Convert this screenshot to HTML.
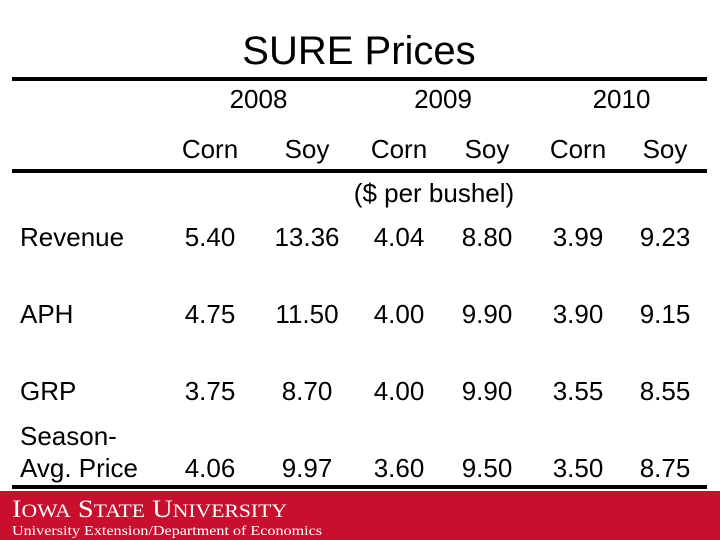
<!DOCTYPE html>
<html><head><meta charset="utf-8"><style>
body{margin:0;width:720px;height:540px;overflow:hidden;background:#fff}
svg{display:block}
text{font-family:"Liberation Sans",Arial,sans-serif;fill:#000}
text.serif{font-family:"Liberation Serif","DejaVu Serif",serif;fill:#fff}
</style></head><body>
<svg width="720" height="540">
<text x="359" y="64" font-size="40" text-anchor="middle">SURE Prices</text>
<rect x="12" y="77" width="695" height="4"/>
<rect x="12" y="169" width="695" height="4"/>
<rect x="12" y="485" width="695" height="4"/>
<g id="tbl" font-size="26"></g>
<rect x="0" y="491" width="720" height="49" fill="#C8102E"/>
<text class="serif" x="12" y="517" font-size="25" textLength="275" lengthAdjust="spacingAndGlyphs">I<tspan font-size="19">OWA</tspan> S<tspan font-size="19">TATE</tspan> U<tspan font-size="19">NIVERSITY</tspan></text>
<text class="serif" x="12" y="535" font-size="14" textLength="310" lengthAdjust="spacingAndGlyphs">University Extension/Department of Economics</text>
</svg>
<script>
const years=["2008","2009","2010"];
const crops=["Corn","Soy","Corn","Soy","Corn","Soy"];
const rows=["Revenue","APH","GRP","Season-Avg. Price"];
const values=[
["5.40","13.36","4.04","8.80","3.99","9.23"],
["4.75","11.50","4.00","9.90","3.90","9.15"],
["3.75","8.70","4.00","9.90","3.55","8.55"],
["4.06","9.97","3.60","9.50","3.50","8.75"]];
const colX=[210,307,399,487,578,665];
const rowY=[246,323,400,477];
const g=document.getElementById('tbl');
function t(x,y,s,anchor,name){const e=document.createElementNS('http://www.w3.org/2000/svg','text');
e.setAttribute('x',x);e.setAttribute('y',y);e.setAttribute('text-anchor',anchor);e.textContent=s;


g.appendChild(e);return e;}
years.forEach((y,i)=>t((colX[2*i]+colX[2*i+1])/2,108,y,'middle','year-header'));
crops.forEach((c,i)=>t(colX[i],158,c,'middle','crop-header'));
t(434,202,"($ per bushel)",'middle','units-label');
rows.forEach((r,i)=>{
 if(r==="Season-Avg. Price"){t(20,445,"Season-",'start','row-label');t(20,477,"Avg. Price",'start','row-label');}
 else t(20,rowY[i],r,'start','row-label');
 values[i].forEach((v,j)=>t(colX[j],rowY[i],v,'middle','value-cell'));
});
</script>
</body></html>
